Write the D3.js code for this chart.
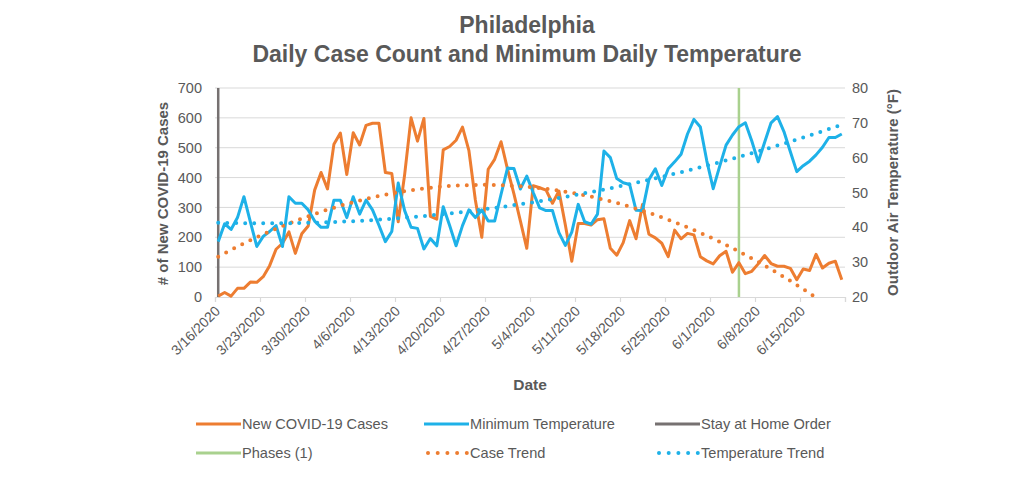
<!DOCTYPE html>
<html>
<head>
<meta charset="utf-8">
<script src="https://cdn.jsdelivr.net/npm/d3@7"></script>
<style>
  html, body { margin: 0; padding: 0; background: #fff; }
  svg { display: block; font-family: "Liberation Sans", Arial, Helvetica, sans-serif; }
</style>
</head>
<body>
<svg id="chart" width="1024" height="500"></svg>
<script>
// ---------------- DATA ----------------
const startDate = "2020-03-16";
const dayCount = 98; // 3/16/2020 .. 6/21/2020

const newCases = [
  3, 15, 3, 29, 29, 50, 49, 68, 105, 160,
  180, 218, 146, 212, 238, 358, 417, 362, 512, 549,
  410, 550, 509, 575, 582, 582, 417, 414, 252, 410,
  600, 522, 598, 270, 261, 493, 504, 525, 569, 490,
  325, 200, 428, 461, 520, 428, 345, 255, 163, 373,
  366, 358, 314, 355, 241, 120, 246, 246, 241, 259,
  262, 163, 140, 182, 256, 195, 310, 210, 198, 180,
  135, 224, 195, 213, 208, 135, 121, 111, 138, 153,
  83, 115, 78, 86, 111, 139, 112, 103, 103, 96,
  58, 94, 89, 143, 97, 113, 120, 58
];

const minTemp = [
  35.9, 41.0, 39.4, 42.8, 48.8, 41.6, 34.5, 37.4, 38.8, 40.5,
  34.5, 48.8, 46.9, 46.9, 45.0, 41.8, 40.0, 40.0, 47.8, 47.8,
  42.8, 48.8, 43.8, 47.8, 45.0, 40.6, 35.9, 38.8, 52.7, 44.8,
  40.0, 39.7, 33.8, 36.8, 34.7, 45.9, 40.5, 34.7, 40.5, 45.0,
  42.8, 45.0, 41.8, 41.8, 49.5, 57.0, 56.9, 51.0, 54.7, 50.0,
  45.6, 44.8, 44.8, 38.5, 34.8, 38.6, 46.6, 41.6, 40.9, 43.8,
  61.9, 60.0, 54.0, 52.8, 52.3, 44.9, 44.8, 53.7, 56.8, 52.0,
  56.8, 58.8, 61.0, 66.8, 71.0, 68.8, 59.1, 51.1, 57.5, 63.6,
  66.5, 68.9, 70.0, 64.8, 58.8, 64.4, 70.0, 71.8, 67.5, 61.7,
  56.0, 57.7, 59.0, 60.8, 63.0, 65.8, 65.8, 66.8
];

const stayAtHomeDay = "2020-03-16";
const phaseOneDay = "2020-06-05";

const tickLabels = [
  "3/16/2020", "3/23/2020", "3/30/2020", "4/6/2020", "4/13/2020",
  "4/20/2020", "4/27/2020", "5/4/2020", "5/11/2020", "5/18/2020",
  "5/25/2020", "6/1/2020", "6/8/2020", "6/15/2020"
];
const caseTicks = [0, 100, 200, 300, 400, 500, 600, 700];
const tempTicks = [20, 30, 40, 50, 60, 70, 80];

const titleLines = ["Philadelphia", "Daily Case Count and Minimum Daily Temperature"];
const legendItems = [
  { label: "New COVID-19 Cases", key: "cases" },
  { label: "Minimum Temperature", key: "temp" },
  { label: "Stay at Home Order", key: "stay" },
  { label: "Phases (1)", key: "phase" },
  { label: "Case Trend", key: "caseTrend" },
  { label: "Temperature Trend", key: "tempTrend" }
];

// ---------------- STYLE ----------------
const C = {
  cases: "#ED7D31",
  temp: "#1EB1E8",
  stay: "#767171",
  phase: "#A9D18E",
  grid: "#D9D9D9",
  text: "#595959"
};

// ---------------- HELPERS ----------------
const parse = d3.timeParse("%Y-%m-%d");
const day0 = parse(startDate);
const dates = d3.range(dayCount).map(i => d3.timeDay.offset(day0, i));
const dayIndex = s => d3.timeDay.count(day0, parse(s));

// least-squares polynomial fit (order 2), as the spreadsheet trendline does
function polyFit(ys, order) {
  const n = order + 1;
  const A = Array.from({ length: n }, () => new Array(n + 1).fill(0));
  ys.forEach((y, i) => {
    const x = i + 1;
    for (let r = 0; r < n; r++) {
      for (let c = 0; c < n; c++) A[r][c] += Math.pow(x, r + c);
      A[r][n] += y * Math.pow(x, r);
    }
  });
  for (let p = 0; p < n; p++) {
    let m = p;
    for (let r = p + 1; r < n; r++) if (Math.abs(A[r][p]) > Math.abs(A[m][p])) m = r;
    [A[p], A[m]] = [A[m], A[p]];
    for (let r = 0; r < n; r++) {
      if (r === p) continue;
      const f = A[r][p] / A[p][p];
      for (let c = p; c <= n; c++) A[r][c] -= f * A[p][c];
    }
  }
  const coef = A.map((row, i) => row[n] / row[i]);
  return x => coef.reduce((s, c, k) => s + c * Math.pow(x + 1, k), 0);
}

// ---------------- LAYOUT ----------------
const svg = d3.select("#chart");
const plot = { left: 215, right: 845, top: 88, bottom: 297 };

const x = d3.scaleLinear().domain([0, dayCount]).range([plot.left, plot.right]);
const xc = i => x(i + 0.5);
const yL = d3.scaleLinear().domain([0, 700]).range([plot.bottom, plot.top]);
const yR = d3.scaleLinear().domain([20, 80]).range([plot.bottom, plot.top]);

// Title
svg.append("g").selectAll("text").data(titleLines).join("text")
  .attr("x", 527).attr("y", (d, i) => 33 + i * 29)
  .attr("text-anchor", "middle")
  .attr("font-size", 23).attr("font-weight", "bold")
  .attr("fill", C.text).text(d => d);

// Gridlines
svg.append("g").selectAll("line").data(caseTicks.slice(1)).join("line")
  .attr("x1", plot.left).attr("x2", plot.right)
  .attr("y1", d => yL(d)).attr("y2", d => yL(d))
  .attr("stroke", C.grid).attr("stroke-width", 1);

// X axis
const xTicks = d3.range(0, dayCount + 1, 7);
const xAxis = d3.axisBottom(x).tickValues(xTicks).tickSize(5).tickFormat("");
const gx = svg.append("g").attr("transform", `translate(0,${plot.bottom})`).call(xAxis);
gx.select(".domain").attr("stroke", C.grid).attr("stroke-width", 1.2);
gx.selectAll(".tick line").attr("stroke", C.grid).attr("stroke-width", 1.2);

svg.append("g").selectAll("text").data(tickLabels).join("text")
  .attr("transform", (d, i) => `translate(${x(xTicks[i]) + 6},${plot.bottom + 15}) rotate(-45)`)
  .attr("text-anchor", "end")
  .attr("font-size", 14).attr("fill", C.text).text(d => d);

// Left axis
const gyL = svg.append("g").attr("transform", `translate(${plot.left},0)`)
  .call(d3.axisLeft(yL).tickValues(caseTicks).tickSize(0).tickPadding(13));
gyL.select(".domain").remove();
gyL.selectAll("text").attr("font-size", 14.5).attr("fill", C.text)
  .attr("font-family", "Liberation Sans, Arial, sans-serif");

// Right axis
const gyR = svg.append("g").attr("transform", `translate(${plot.right},0)`)
  .call(d3.axisRight(yR).tickValues(tempTicks).tickSize(0).tickPadding(7));
gyR.select(".domain").remove();
gyR.selectAll("text").attr("font-size", 14.5).attr("fill", C.text)
  .attr("font-family", "Liberation Sans, Arial, sans-serif");

// Axis titles
svg.append("text")
  .attr("transform", `translate(168,${(plot.top + plot.bottom) / 2 + 1}) rotate(-90)`)
  .attr("text-anchor", "middle").attr("font-size", 15).attr("font-weight", "bold")
  .attr("fill", C.text).text("# of New COVID-19 Cases");
svg.append("text")
  .attr("transform", `translate(898,${(plot.top + plot.bottom) / 2}) rotate(-90)`)
  .attr("text-anchor", "middle").attr("font-size", 15).attr("font-weight", "bold")
  .attr("fill", C.text).text("Outdoor Air Temperature (°F)");
svg.append("text")
  .attr("x", 530).attr("y", 390).attr("text-anchor", "middle")
  .attr("font-size", 15.5).attr("font-weight", "bold")
  .attr("fill", C.text).text("Date");

// Vertical event lines
svg.append("line")
  .attr("x1", xc(dayIndex(stayAtHomeDay))).attr("x2", xc(dayIndex(stayAtHomeDay)))
  .attr("y1", yL(700)).attr("y2", yL(0))
  .attr("stroke", C.stay).attr("stroke-width", 2.5);
svg.append("line")
  .attr("x1", xc(dayIndex(phaseOneDay))).attr("x2", xc(dayIndex(phaseOneDay)))
  .attr("y1", yL(700)).attr("y2", yL(0))
  .attr("stroke", C.phase).attr("stroke-width", 2.5);

// Series lines
const caseLine = d3.line().x((d, i) => xc(i)).y(d => yL(d));
const tempLine = d3.line().x((d, i) => xc(i)).y(d => yR(d));

svg.append("path").datum(newCases).attr("d", caseLine)
  .attr("fill", "none").attr("stroke", C.cases).attr("stroke-width", 3)
  .attr("stroke-linejoin", "round");
svg.append("path").datum(minTemp).attr("d", tempLine)
  .attr("fill", "none").attr("stroke", C.temp).attr("stroke-width", 3)
  .attr("stroke-linejoin", "round");

// Trendlines (order-2 polynomial fit of each series)
const caseFit = polyFit(newCases, 2);
const tempFit = polyFit(minTemp, 2);
const fine = d3.range(0, dayCount - 1 + 0.001, 0.25);
const caseTrend = fine.map(t => [t, caseFit(t)]).filter(p => p[1] >= 0);
const tempTrend = fine.map(t => [t, tempFit(t)]);

svg.append("path").datum(caseTrend)
  .attr("d", d3.line().x(p => xc(p[0])).y(p => yL(p[1])))
  .attr("fill", "none").attr("stroke", C.cases).attr("stroke-width", 4)
  .attr("stroke-linecap", "round").attr("stroke-dasharray", "0 9");
svg.append("path").datum(tempTrend)
  .attr("d", d3.line().x(p => xc(p[0])).y(p => yR(p[1])))
  .attr("fill", "none").attr("stroke", C.temp).attr("stroke-width", 4)
  .attr("stroke-linecap", "round").attr("stroke-dasharray", "0 9");

// Legend
const legCols = [196, 424, 655];
const legRows = [424, 453];
const lg = svg.append("g").selectAll("g").data(legendItems).join("g")
  .attr("transform", (d, i) => `translate(${legCols[i % 3]},${legRows[Math.floor(i / 3)]})`);
lg.each(function (d) {
  const g = d3.select(this);
  const dotted = d.key === "caseTrend" || d.key === "tempTrend";
  const col = { cases: C.cases, temp: C.temp, stay: C.stay, phase: C.phase,
                caseTrend: C.cases, tempTrend: C.temp }[d.key];
  if (dotted) {
    g.selectAll("circle").data(d3.range(5)).join("circle")
      .attr("cx", k => 4 + k * 9.7).attr("cy", 0).attr("r", 2)
      .attr("fill", col);
  } else {
    g.append("line").attr("x1", 0).attr("x2", 45).attr("y1", 0).attr("y2", 0)
      .attr("stroke", col).attr("stroke-width", 3);
  }
  g.append("text").attr("x", 46).attr("y", 5).attr("font-size", 14.6)
    .attr("fill", C.text).text(d.label);
});
</script>
</body>
</html>
